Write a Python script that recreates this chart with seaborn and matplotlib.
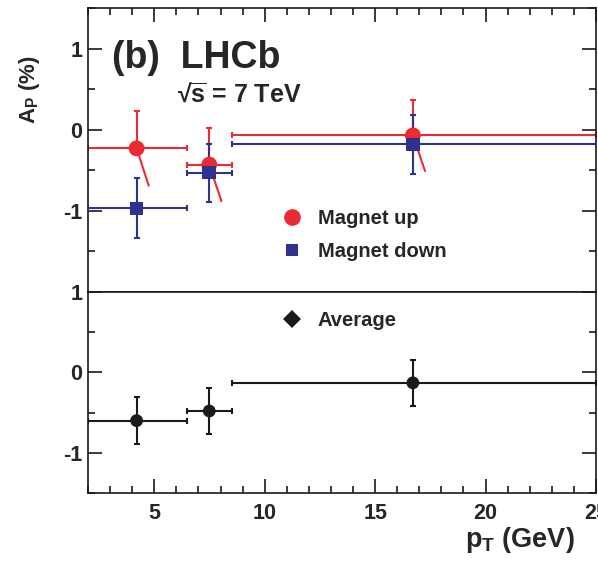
import numpy as np
import pandas as pd
import matplotlib
matplotlib.use("Agg")
import matplotlib.pyplot as plt
from matplotlib.lines import Line2D
from matplotlib.ticker import MultipleLocator
import seaborn as sns

# ---------------- data ----------------
pt_center = [4.20, 7.49, 16.71]
bin_low = [2.0, 6.5, 8.5]
bin_high = [6.5, 8.5, 25.0]

up_val = [-0.23, -0.43, -0.07]
up_err = [0.46, 0.45, 0.44]

down_val = [-0.97, -0.53, -0.18]
down_err = [0.37, 0.36, 0.36]

avg_val = [-0.60, -0.48, -0.13]
avg_err = [0.295, 0.29, 0.285]

x_ticks = [5, 10, 15, 20, 25]
top_yticks = [-1, 0, 1]
bot_yticks = [-1, 0, 1]

# ---------------- style ----------------
sns.set_theme(style="ticks")
plt.rcParams["font.family"] = ["Liberation Sans", "DejaVu Sans"]
plt.rcParams["font.weight"] = "bold"
plt.rcParams["mathtext.fontset"] = "custom"
plt.rcParams["mathtext.rm"] = "Liberation Sans:bold"
plt.rcParams["mathtext.it"] = "Liberation Sans:bold"
plt.rcParams["mathtext.bf"] = "Liberation Sans:bold"

RED = "#ec2a33"
BLUE = "#2e3192"
BLACK = "#1a1a1a"

W, H = 598, 561
fig = plt.figure(figsize=(W / 100, H / 100), dpi=100)

L, R = 88 / W, 596 / W
y_top, y_mid, y_bot = 1 - 8 / H, 1 - 292 / H, 1 - 493 / H
ax_top = fig.add_axes([L, y_mid, R - L, y_top - y_mid])
ax_bot = fig.add_axes([L, y_bot, R - L, y_mid - y_bot], sharex=ax_top)

x_lo = np.array(pt_center) - np.array(bin_low)
x_hi = np.array(bin_high) - np.array(pt_center)

slant = 0.55  # drawing skew of lower error bars of the red series

# ---- top panel ----
df_up = pd.DataFrame({"pt": pt_center, "A": up_val})
df_dn = pd.DataFrame({"pt": pt_center, "A": down_val})

# red (magnet up)
ax_top.errorbar(pt_center, up_val, xerr=[x_lo, x_hi],
                yerr=[np.zeros(3), up_err], fmt="none", ecolor=RED,
                elinewidth=1.5, capsize=2.2, capthick=1.5, zorder=2)
for x, v, e in zip(pt_center, up_val, up_err):
    ax_top.plot([x, x + slant], [v, v - e], color=RED, lw=1.5, zorder=2)
# blue (magnet down)
ax_top.errorbar(pt_center, down_val, xerr=[x_lo, x_hi],
                yerr=down_err, fmt="none", ecolor=BLUE,
                elinewidth=1.5, capsize=2.2, capthick=1.5, zorder=3)
sns.scatterplot(data=df_up, x="pt", y="A", ax=ax_top, color=RED, marker="o",
                s=130, edgecolor="none", zorder=4, legend=False)
sns.scatterplot(data=df_dn, x="pt", y="A", ax=ax_top, color=BLUE, marker="s",
                s=95, edgecolor="none", zorder=5, legend=False)

# ---- bottom panel ----
df_avg = pd.DataFrame({"pt": pt_center, "A": avg_val})
ax_bot.errorbar(pt_center, avg_val, xerr=[x_lo, x_hi], yerr=avg_err,
                fmt="none", ecolor=BLACK, elinewidth=1.5, capsize=2.2,
                capthick=1.5, zorder=2)
sns.scatterplot(data=df_avg, x="pt", y="A", ax=ax_bot, color=BLACK,
                marker="o", s=85, edgecolor="none", zorder=4, legend=False)

# ---- axes styling ----
for ax in (ax_top, ax_bot):
    ax.set_xlim(2, 25)
    ax.set_xlabel("")
    ax.set_ylabel("")
    for sp in ax.spines.values():
        sp.set_visible(True)
        sp.set_linewidth(1.2)
        sp.set_color(BLACK)
    ax.yaxis.set_minor_locator(MultipleLocator(0.5))
    ax.xaxis.set_minor_locator(MultipleLocator(1))
    ax.tick_params(axis="both", which="major", direction="in", length=10,
                   width=1.2, labelsize=15.5, color=BLACK)
    ax.tick_params(axis="both", which="minor", direction="in", length=5,
                   width=1.2, color=BLACK)
    ax.tick_params(axis="y", which="both", left=True, right=True, pad=4)

ax_top.set_ylim(-2, 1.5)
ax_top.set_yticks(top_yticks)
ax_top.set_yticklabels([str(t) for t in top_yticks])
ax_top.tick_params(axis="x", which="both", top=True, bottom=False,
                   labelbottom=False, labeltop=False)

ax_bot.set_ylim(-1.5, 1)
ax_bot.set_yticks(bot_yticks)
ax_bot.set_yticklabels([str(t) for t in bot_yticks])
ax_bot.set_xticks(x_ticks)
ax_bot.set_xticklabels([str(t) for t in x_ticks])
ax_bot.tick_params(axis="x", which="both", top=False, bottom=True, pad=7)
for lab in ax_bot.get_xticklabels() + ax_bot.get_yticklabels() + ax_top.get_yticklabels():
    lab.set_fontweight("bold")

# ---- texts ----
ax_top.text(0.047, 0.789, "(b)  LHCb", transform=ax_top.transAxes,
            fontsize=27, fontweight="bold", ha="left", va="baseline")
ax_top.text(0.175, 0.669, "\u221a$\\overline{\\mathrm{s}}$ = 7 TeV",
            transform=ax_top.transAxes,
            fontsize=18, fontweight="bold", ha="left", va="baseline")

fig.text(30 / W, 1 - 90 / H, r"A$_{\mathrm{P}}$ (%)", rotation=90,
         ha="center", va="center", fontsize=16, fontweight="bold")
fig.text(575 / W, 1 - 547 / H, r"p$_{\mathrm{T}}$ (GeV)", ha="right",
         va="baseline", fontsize=19.5, fontweight="bold")

# ---- legends ----
h_up = Line2D([], [], ls="none", marker="o", color=RED, markersize=12,
              markeredgewidth=0)
h_dn = Line2D([], [], ls="none", marker="s", color=BLUE, markersize=9,
              markeredgewidth=0)
leg = ax_top.legend([h_up, h_dn], ["Magnet up", "Magnet down"],
                    loc="center left", bbox_to_anchor=(0.381, 0.2007),
                    frameon=False, fontsize=14.5, handlelength=1.0,
                    handletextpad=0.81, borderpad=0, borderaxespad=0,
                    labelspacing=0.7)
for t in leg.get_texts():
    t.set_fontweight("bold")

h_avg = Line2D([], [], ls="none", marker="D", color=BLACK, markersize=9,
               markeredgewidth=0)
leg2 = ax_bot.legend([h_avg], ["Average"], loc="center left",
                     bbox_to_anchor=(0.381, 0.856), frameon=False,
                     fontsize=14.5, handlelength=1.0, handletextpad=0.81,
                     borderpad=0, borderaxespad=0)
for t in leg2.get_texts():
    t.set_fontweight("bold")

fig.savefig("out.png", dpi=100)
